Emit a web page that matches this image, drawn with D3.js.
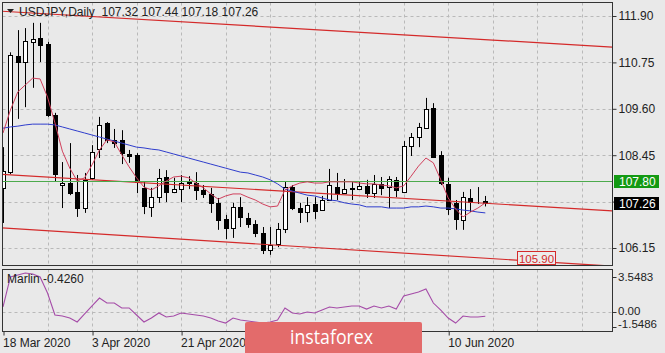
<!DOCTYPE html>
<html>
<head>
<meta charset="utf-8">
<script src="https://cdn.jsdelivr.net/npm/d3@7"></script>
<style>
  html, body { margin: 0; padding: 0; background: #e9e9e9; }
  svg { display: block; font-family: "Liberation Sans", Arial, sans-serif; }
</style>
</head>
<body>
<svg id="chart" width="665" height="353"></svg>
<script>
// USDJPY daily candles, 18 Mar 2020 .. 17 Jun 2020 (bar index 0..65)
const opens = [107.64,108.03,110.91,110.76,111.26,111.35,111.21,109.45,107.71,107.76,
  107.54,107.14,107.89,108.60,109.25,108.83,108.83,108.48,108.46,107.64,
  107.17,107.41,107.91,107.54,107.61,107.81,107.76,107.59,107.49,107.27,
  106.87,106.65,107.17,106.89,106.75,106.53,106.10,106.25,106.62,107.66,
  107.14,107.04,107.24,107.09,107.34,107.66,107.51,107.64,107.61,107.69,
  107.51,107.74,107.66,107.84,107.54,108.68,108.90,109.12,109.62,108.46,
  107.74,107.27,106.84,107.39,107.30,107.32];
const highs = [108.65,111.00,111.55,111.60,111.73,111.73,111.26,109.50,108.28,108.75,
  107.96,108.01,108.70,109.40,109.27,109.10,109.07,108.58,108.50,107.79,
  107.64,108.11,108.08,107.89,107.96,107.93,108.03,107.71,107.64,107.39,
  106.97,107.27,107.41,107.02,106.84,106.67,106.67,106.77,107.79,107.71,
  107.27,107.41,107.41,107.44,108.11,108.01,107.86,107.79,107.79,107.84,
  107.96,107.91,107.93,107.91,108.80,109.00,109.25,109.87,109.74,108.55,
  107.89,107.34,107.54,107.61,107.66,107.44];
const lows = [106.77,107.98,109.35,109.64,110.12,110.76,109.40,107.79,107.14,107.46,
  106.92,107.02,107.84,108.38,108.75,108.63,108.23,108.26,107.51,106.99,
  106.92,107.27,107.29,107.51,107.29,107.61,107.34,107.39,107.02,106.60,
  106.37,106.40,106.67,106.65,106.42,106.00,105.98,106.17,106.52,107.09,
  106.77,106.79,106.87,107.07,107.32,107.34,107.51,107.34,107.59,107.39,
  107.39,107.46,107.14,107.41,107.51,108.43,108.65,109.10,108.38,107.71,
  106.97,106.60,106.60,107.04,107.24,107.18];
const closes = [108.06,110.93,110.76,111.28,111.33,111.18,109.45,107.98,107.76,107.51,
  107.14,107.84,108.53,109.20,108.83,108.75,108.50,108.43,107.79,107.19,
  107.41,107.89,107.54,107.61,107.76,107.76,107.59,107.49,107.27,106.84,
  106.65,107.17,106.92,106.75,106.53,106.10,106.22,106.62,107.66,107.14,
  107.04,107.22,107.07,107.34,107.71,107.51,107.61,107.62,107.69,107.51,
  107.74,107.64,107.86,107.59,108.68,108.90,109.15,109.60,108.41,107.76,
  107.12,106.87,107.41,107.29,107.29,107.26];

// fast moving average (crimson)
const fastMA = [109.00,109.57,110.02,110.19,110.36,110.34,109.89,109.25,108.55,108.13,
  107.81,107.89,108.21,108.58,108.83,108.78,108.46,108.16,107.89,107.66,
  107.59,107.69,107.81,107.91,107.93,107.89,107.76,107.64,107.49,107.36,
  107.44,107.49,107.49,107.41,107.34,107.24,107.17,107.19,107.59,107.69,
  107.76,107.79,107.76,107.76,107.79,107.79,107.79,107.79,107.76,107.74,
  107.74,107.71,107.69,107.64,107.69,107.93,108.18,108.38,108.26,107.84,
  107.39,107.12,106.92,107.04,107.14,107.27];
// slow moving average (blue)
const slowMA = [109.12,109.15,109.17,109.20,109.22,109.22,109.22,109.20,109.15,109.10,
  109.05,109.00,108.95,108.90,108.85,108.80,108.75,108.70,108.65,108.63,
  108.60,108.58,108.53,108.48,108.43,108.38,108.33,108.28,108.23,108.18,
  108.13,108.08,108.03,108.01,107.96,107.91,107.84,107.74,107.61,107.56,
  107.51,107.46,107.44,107.39,107.34,107.32,107.27,107.24,107.22,107.17,
  107.17,107.17,107.14,107.14,107.14,107.17,107.17,107.19,107.17,107.14,
  107.14,107.12,107.09,107.07,107.04,107.02];
// Marlin oscillator
const marlin = [0.51,3.55,3.75,3.96,3.85,3.55,1.93,-0.30,-0.41,-0.61,
  -1.01,-0.20,0.61,1.42,0.91,0.91,0.41,0.41,-0.30,-1.01,
  -0.61,-0.10,-0.51,-0.41,-0.10,-0.20,-0.30,-0.41,-0.61,-0.91,
  -1.12,-0.61,-0.81,-0.91,-1.01,-1.12,-1.01,-0.81,0.41,-0.10,
  -0.20,0.00,-0.10,0.20,0.51,0.41,0.51,0.61,0.61,0.30,
  0.61,0.41,0.61,0.30,1.62,1.83,2.03,2.33,0.91,0.20,
  -0.61,-1.12,-0.41,-0.51,-0.51,-0.43];

// channel lines: [bar index, price] end points
const channelUpper = [[-0.4, 112.02], [82.1, 111.13]];
const channelMiddle = [[-0.4, 107.98], [82.1, 107.07]];
const channelLower = [[-0.4, 106.65], [82.1, 105.70]];
const levelPrice = 107.80;
const lastPrice = 107.26;
const channelLabel = {bar: 69.3, text: "105.90"};

const priceTicks = [111.90, 110.75, 109.60, 108.45, 107.30, 106.15];
const hiddenPriceTick = 107.30; // covered by the last price box
// labels at bars 36 and 48 sit under the watermark, so only their ticks show
const dateTickBars = [0, 12, 24, 36, 48, 60];
const dateTickLabels = ["18 Mar 2020", "3 Apr 2020", "21 Apr 2020", "", "", "10 Jun 2020"];
const gridBars = [6, 12, 18, 24, 30, 36, 42, 48, 54, 60, 66, 72, 78];
const subTicks = [3.5483, 0, -1.5486];
const subTickLabels = ["3.5483", "0.00", "-1.5486"];

const svg = d3.select("#chart");
const mainBox = {x0: 2.5, x1: 612.5, y0: 2.5, y1: 265.5};
const subBox = {x0: 2.5, x1: 612.5, y0: 269.5, y1: 331.5};

const x = d3.scaleLinear().domain([0, 65]).range([3, 485.3]);
const y = d3.scaleLinear().domain([106.15, 111.90]).range([248, 16]);
const ySub = d3.scaleLinear().domain([-1.5486, 3.5483]).range([327.3, 277]);
const px = i => Math.round(x(i)) + 0.5;

// clip paths
const defs = svg.append("defs");
defs.append("clipPath").attr("id", "clipMain").append("rect")
  .attr("x", mainBox.x0).attr("y", mainBox.y0)
  .attr("width", mainBox.x1 - mainBox.x0).attr("height", mainBox.y1 - mainBox.y0);
defs.append("clipPath").attr("id", "clipSub").append("rect")
  .attr("x", subBox.x0).attr("y", subBox.y0)
  .attr("width", subBox.x1 - subBox.x0).attr("height", subBox.y1 - subBox.y0);

const gridColor = "#b9b9b9";

// grid
const gMain = svg.append("g").attr("clip-path", "url(#clipMain)");
gMain.selectAll("line.vg").data(gridBars).join("line")
  .attr("x1", px).attr("x2", px).attr("y1", mainBox.y0).attr("y2", mainBox.y1)
  .attr("stroke", gridColor).attr("stroke-dasharray", "3,3");
gMain.selectAll("line.hg").data(priceTicks).join("line")
  .attr("x1", mainBox.x0).attr("x2", mainBox.x1)
  .attr("y1", d => Math.round(y(d)) + 0.5).attr("y2", d => Math.round(y(d)) + 0.5)
  .attr("stroke", gridColor).attr("stroke-dasharray", "3,3");

const gSub = svg.append("g").attr("clip-path", "url(#clipSub)");
gSub.selectAll("line.vg").data(gridBars).join("line")
  .attr("x1", px).attr("x2", px).attr("y1", subBox.y0).attr("y2", subBox.y1)
  .attr("stroke", gridColor).attr("stroke-dasharray", "3,3");
gSub.append("line")
  .attr("x1", subBox.x0).attr("x2", subBox.x1)
  .attr("y1", Math.round(ySub(0)) + 0.5).attr("y2", Math.round(ySub(0)) + 0.5)
  .attr("stroke", gridColor).attr("stroke-dasharray", "3,3");

// candles
const bars = d3.range(opens.length);
const gCandles = gMain.append("g");
gCandles.selectAll("line.wick").data(bars).join("line")
  .attr("x1", px).attr("x2", px)
  .attr("y1", i => y(highs[i])).attr("y2", i => y(lows[i]))
  .attr("stroke", "#000").attr("stroke-width", 1);
gCandles.selectAll("rect.body").data(bars).join("rect")
  .attr("x", i => Math.round(x(i)) - 2 + 0.5)
  .attr("width", 4)
  .attr("y", i => Math.round(y(Math.max(opens[i], closes[i]))) + 0.5)
  .attr("height", i => Math.max(0, Math.round(Math.abs(y(opens[i]) - y(closes[i])))))
  .attr("fill", i => closes[i] >= opens[i] ? "#fff" : "#000")
  .attr("stroke", "#000").attr("stroke-width", 1);

// channel lines
const chLine = d3.line().x(d => x(d[0])).y(d => y(d[1]));
[channelUpper, channelMiddle, channelLower].forEach(ch => {
  gMain.append("path").attr("d", chLine(ch))
    .attr("fill", "none").attr("stroke", "#d42a2a").attr("stroke-width", 1.2);
});

// horizontal level
gMain.append("line")
  .attr("x1", mainBox.x0).attr("x2", mainBox.x1)
  .attr("y1", Math.round(y(levelPrice)) + 0.5).attr("y2", Math.round(y(levelPrice)) + 0.5)
  .attr("stroke", "#4caa4c").attr("stroke-width", 1.2);

// moving averages
const maLine = d3.line().x((d, i) => x(i)).y(d => y(d));
gMain.append("path").attr("d", maLine(slowMA))
  .attr("fill", "none").attr("stroke", "#2f3dcc").attr("stroke-width", 1);
gMain.append("path").attr("d", maLine(fastMA))
  .attr("fill", "none").attr("stroke", "#d0405c").attr("stroke-width", 1);

// oscillator
const oscLine = d3.line().x((d, i) => x(i)).y(d => ySub(d));
gSub.append("path").attr("d", oscLine(marlin))
  .attr("fill", "none").attr("stroke", "#a54ca8").attr("stroke-width", 1.1);

// channel price label
const lx = x(channelLabel.bar);
svg.append("rect").attr("x", Math.round(lx) + 0.5).attr("y", 251.5)
  .attr("width", 38).attr("height", 13)
  .attr("fill", "#ececec").attr("stroke", "#d42a2a");
svg.append("text").attr("x", Math.round(lx) + 19.5).attr("y", 262.5)
  .attr("text-anchor", "middle").attr("font-size", 11.5).attr("fill", "#d42a2a")
  .text(channelLabel.text);

// panel borders
[mainBox, subBox].forEach(b => {
  svg.append("rect").attr("x", b.x0).attr("y", b.y0)
    .attr("width", b.x1 - b.x0).attr("height", b.y1 - b.y0)
    .attr("fill", "none").attr("stroke", "#333");
});

// price axis
const yAxis = d3.axisRight(y).tickValues(priceTicks)
  .tickFormat(d => d === hiddenPriceTick ? "" : d3.format(".2f")(d))
  .tickSize(4).tickPadding(2);
const gy = svg.append("g").attr("transform", `translate(${mainBox.x1},0)`).call(yAxis);
gy.select(".domain").remove();
gy.selectAll("text").attr("font-size", 12).attr("fill", "#222").attr("font-family", "Liberation Sans, Arial, sans-serif");
gy.selectAll("line").attr("stroke", "#333");

// level price boxes
function priceBox(price, bg) {
  const cy = y(price);
  svg.append("rect").attr("x", 614).attr("y", Math.round(cy) - 6).attr("width", 45).attr("height", 13).attr("fill", bg);
  svg.append("text").attr("x", 619).attr("y", Math.round(cy) + 5)
    .attr("font-size", 12).attr("fill", "#fff").text(price.toFixed(2));
}
priceBox(levelPrice, "#139a13");
priceBox(lastPrice, "#000");

// sub axis
const gs = svg.append("g");
gs.selectAll("line").data(subTicks).join("line")
  .attr("x1", subBox.x1).attr("x2", subBox.x1 + 4)
  .attr("y1", d => Math.round(ySub(d)) + 0.5).attr("y2", d => Math.round(ySub(d)) + 0.5)
  .attr("stroke", "#333");
const subLabelShift = [0, -1.5, -3];
gs.selectAll("text").data(subTicks).join("text")
  .attr("x", 618).attr("y", (d, i) => ySub(d) + 4 + subLabelShift[i])
  .attr("font-size", 11.5).attr("fill", "#222")
  .text((d, i) => subTickLabels[i]);

// date axis
const xAxis = d3.axisBottom(x).tickValues(dateTickBars).tickFormat((d, i) => dateTickLabels[i]).tickSize(4).tickPadding(3);
const gx = svg.append("g").attr("transform", `translate(0.5,${subBox.y1})`).call(xAxis);
gx.select(".domain").remove();
gx.selectAll("text").attr("text-anchor", "start").attr("font-size", 12).attr("fill", "#222")
  .attr("font-family", "Liberation Sans, Arial, sans-serif").attr("dx", -1);
gx.selectAll("line").attr("stroke", "#333");

// titles
svg.append("path").attr("d", "M7,9 L14,9 L10.5,13 Z").attr("fill", "#222");
svg.append("text").attr("x", 19).attr("y", 16).attr("font-size", 12).attr("fill", "#222")
  .attr("xml:space", "preserve")
  .text("USDJPY,Daily  107.32 107.44 107.18 107.26");
svg.append("text").attr("x", 7).attr("y", 283).attr("font-size", 12).attr("fill", "#222")
  .text("Marlin -0.4260");

// watermark
const wm = svg.append("g");
wm.append("rect").attr("x", 245).attr("y", 322).attr("width", 177).attr("height", 35).attr("rx", 2)
  .attr("fill", "#e36b6b");
wm.append("text").attr("x", 290).attr("y", 344).attr("font-size", 20)
  .attr("textLength", 83).attr("lengthAdjust", "spacingAndGlyphs")
  .attr("font-family", "Open Sans, sans-serif").attr("fill", "#fff").text("instaforex");
</script>
</body>
</html>
